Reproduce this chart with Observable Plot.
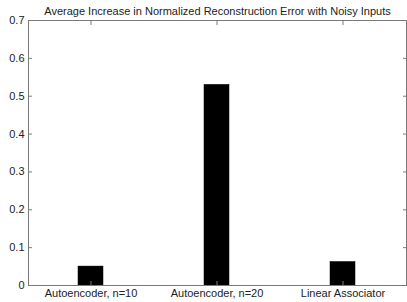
<!DOCTYPE html>
<html>
<head>
<meta charset="utf-8">
<script src="https://cdn.jsdelivr.net/npm/d3@7"></script>
<script src="https://cdn.jsdelivr.net/npm/@observablehq/plot@0.6"></script>
<style>
  html, body { margin: 0; padding: 0; background: #fff; }
  svg { display: block; }
</style>
</head>
<body>
<div id="chart"></div>
<script>
const title = "Average Increase in Normalized Reconstruction Error with Noisy Inputs";
const categories = ["Autoencoder, n=10", "Autoencoder, n=20", "Linear Associator"];
const values = [0.05, 0.53, 0.062];
const yTicks = [0, 0.1, 0.2, 0.3, 0.4, 0.5, 0.6, 0.7];

const data = categories.map((c, i) => ({category: c, value: values[i]}));
const fmt = d => String(+d.toFixed(1));
const tickColor = "#7a7a7a";

const chart = Plot.plot({
  width: 407,
  height: 302,
  marginTop: 20,
  marginBottom: 17,
  marginLeft: 28,
  marginRight: 1,
  style: {fontFamily: "'Liberation Sans', Arial, sans-serif", fontSize: "11px", color: "#222", background: "#fff"},
  x: {domain: categories, paddingInner: 0.8, paddingOuter: 0.4, label: null},
  y: {domain: [0, 0.7], label: null},
  marks: [
    Plot.barY(data, {x: "category", y: "value", fill: "#000", stroke: "#000", strokeWidth: 0.5}),
    Plot.frame({stroke: tickColor}),
    // inward ticks
    Plot.axisY(yTicks, {anchor: "left", tickSize: -4, text: null, stroke: tickColor}),
    Plot.axisY(yTicks, {anchor: "right", tickSize: -4, text: null, stroke: tickColor}),
    Plot.axisX({anchor: "top", tickSize: -4, text: null, stroke: tickColor}),
    Plot.axisX({anchor: "bottom", tickSize: -4, text: null, stroke: tickColor}),
    // labels
    Plot.axisY(yTicks, {anchor: "left", tickSize: 0, tickPadding: 4, tickFormat: fmt, fill: "#222", fontSize: 11}),
    Plot.axisX({anchor: "bottom", tickSize: 0, tickPadding: 4, fill: "#222", fontSize: 11}),
    Plot.text([title], {frameAnchor: "top", dy: -13, fill: "#222", fontSize: 11})
  ]
});
document.getElementById("chart").append(chart);
</script>
</body>
</html>
